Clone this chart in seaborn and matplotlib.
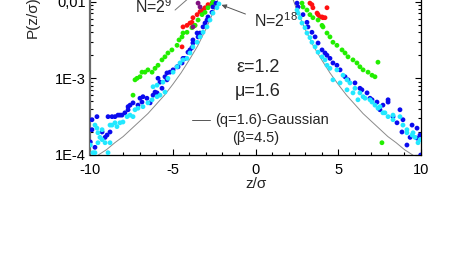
import numpy as np
import pandas as pd
import matplotlib
matplotlib.use("Agg")
import matplotlib.pyplot as plt
from matplotlib.ticker import MultipleLocator, FixedLocator, FixedFormatter, LogLocator, NullFormatter
import seaborn as sns

# ---------------- data (z/sigma, log10 P) ----------------
red_z = [-4.44, -4.38, -4.14, -3.96, -3.84, -3.78, -3.66, -3.53, -3.35, -3.23, -3.17, -3.05, -2.87, -2.63,
         3.29, 3.41, 3.47, 3.72, 3.78, 3.90, 4.02, 4.08, 4.20, 4.32]
red_lp = [-2.59, -2.33, -2.31, -2.28, -2.27, -2.21, -2.31, -2.17, -2.13, -2.14, -2.11, -2.08, -2.04, -2.02,
          -2.02, -2.04, -2.08, -2.15, -2.17, -2.20, -2.20, -2.21, -2.21, -2.08]

green_z = [-7.40, -7.28, -7.16, -6.98, -6.86, -6.68, -6.50, -6.25, -6.07, -5.89, -5.65, -5.47, -5.29, -5.05,
           -4.74, -4.62, -4.44, -4.38, -4.14, -3.84, -3.66, -3.47, -3.23, -3.05, -2.87, -2.63, -2.57,
           2.81, 2.87, 3.11, 3.29, 3.47, 3.78, 4.02, 4.08, 4.32, 4.50, 4.68, 4.92, 5.23, 5.41, 5.59, 5.89,
           6.13, 6.31, 6.50, 6.80, 7.04, 7.22, 7.40, 7.64]
green_lp = [-3.22, -3.02, -3.00, -2.98, -2.92, -2.92, -2.89, -2.92, -2.87, -2.83, -2.76, -2.72, -2.67, -2.63,
            -2.57, -2.50, -2.46, -2.41, -2.40, -2.34, -2.31, -2.24, -2.17, -2.14, -2.08, -2.04, -2.00,
            -2.02, -2.07, -2.11, -2.17, -2.21, -2.24, -2.31, -2.33, -2.41, -2.46, -2.53, -2.57, -2.63, -2.67,
            -2.72, -2.76, -2.80, -2.85, -2.89, -2.92, -2.96, -2.98, -2.79, -3.84]

purple_z = [-3.78, -3.47, -3.35]
purple_lp = [-2.33, -2.02, -2.07]

blue_z = [-9.98, -9.88, -9.88, -9.70, -9.58, -9.27, -9.09, -8.97, -8.91, -8.79, -8.67, -8.49, -8.31, -8.19,
          -8.07, -7.89, -7.70, -7.70, -7.58, -7.40, -7.10, -6.98, -6.86, -6.80, -6.56, -6.37, -6.19, -6.07,
          -5.95, -5.89, -5.77, -5.65, -5.47, -5.35, -5.35, -5.17, -4.98, -4.74, -4.68, -4.44, -4.38, -4.26,
          -4.08, -3.96, -3.84, -3.78, -3.78, -3.53, -3.47, -3.35, -3.17, -3.05, -2.93, -2.87, -2.63, -2.57,
          -2.39,
          2.51, 2.57, 2.87, 3.11, 3.17, 3.41, 3.60, 3.78, 4.02, 4.20, 4.32, 4.50, 4.68, 4.92, 5.11, 5.41,
          5.59, 6.01, 6.31, 6.43, 6.74, 6.92, 7.04, 7.34, 7.52, 7.70, 8.01, 8.01, 8.31, 8.55, 8.73, 8.85,
          8.91, 9.15, 9.34, 9.46, 9.76, 9.76, 9.94, 9.98]
blue_lp = [-3.83, -3.67, -3.54, -3.90, -3.50, -3.70, -3.77, -3.74, -3.50, -3.70, -3.50, -3.50, -3.48, -3.48,
           -3.48, -3.45, -3.41, -3.37, -3.35, -3.32, -3.35, -3.26, -3.31, -3.24, -3.26, -3.32, -3.22, -3.18,
           -3.19, -3.00, -3.05, -3.13, -2.98, -2.93, -3.02, -2.92, -2.89, -2.85, -2.85, -2.80, -2.74, -2.74,
           -2.66, -2.63, -2.60, -2.50, -2.54, -2.41, -2.46, -2.41, -2.33, -2.28, -2.24, -2.20, -2.14, -2.07,
           -2.02,
           -2.02, -2.07, -2.17, -2.27, -2.33, -2.40, -2.46, -2.54, -2.63, -2.67, -2.70, -2.74, -2.80, -2.83,
           -2.89, -2.98, -3.02, -3.06, -3.13, -3.15, -3.19, -3.26, -3.28, -3.31, -3.41, -3.35, -3.28, -3.31,
           -3.50, -3.58, -3.41, -3.70, -3.54, -3.87, -3.77, -3.61, -3.65, -3.78, -3.74, -4.00]

cyan_z = [-9.98, -9.82, -9.70, -9.70, -9.58, -9.52, -9.52, -9.40, -9.27, -9.27, -9.09, -8.91, -8.79, -8.79,
          -8.67, -8.49, -8.37, -8.19, -8.01, -7.76, -7.58, -7.40, -7.28, -7.10, -6.80, -6.50, -6.25, -6.19,
          -5.95, -5.95, -5.77, -5.59, -5.47, -5.29, -4.98, -4.74, -4.56, -4.38, -4.14, -3.96, -3.78, -3.53,
          -3.35, -3.17, -2.93, -2.75, -2.57, -2.33, -2.21,
          2.51, 2.57, 2.69, 2.81, 2.99, 3.11, 3.29, 3.41, 3.60, 3.78, 4.02, 4.20, 4.32, 4.50, 4.68, 4.92,
          5.11, 5.29, 5.53, 5.53, 5.71, 5.89, 6.01, 6.19, 6.31, 6.50, 6.62, 6.92, 7.04, 7.22, 7.40, 7.52,
          7.70, 7.82, 8.01, 8.31, 8.31, 8.73, 8.91, 9.15, 9.15, 9.46, 9.52, 9.64, 9.82, 9.94]
cyan_lp = [-3.87, -3.97, -3.61, -3.97, -3.65, -3.71, -3.84, -3.77, -3.80, -3.67, -3.84, -3.97, -3.84, -3.61,
           -3.61, -3.58, -3.63, -3.58, -3.57, -3.50, -3.48, -3.50, -3.41, -3.39, -3.37, -3.32, -3.28, -3.11,
           -3.24, -3.09, -3.22, -3.05, -3.18, -3.00, -2.92, -2.85, -2.80, -2.76, -2.74, -2.67, -2.59, -2.53,
           -2.46, -2.40, -2.33, -2.24, -2.15, -2.08, -2.03,
           -2.11, -2.15, -2.21, -2.28, -2.34, -2.41, -2.47, -2.53, -2.59, -2.66, -2.72, -2.76, -2.83, -2.87,
           -3.02, -2.89, -3.06, -2.96, -3.02, -3.15, -3.06, -3.19, -3.13, -3.28, -3.19, -3.24, -3.26, -3.28,
           -3.31, -3.35, -3.39, -3.37, -3.45, -3.45, -3.50, -3.48, -3.54, -3.50, -3.61, -3.67, -3.71, -3.74,
           -3.71, -3.77, -3.84, -3.80]

# q-Gaussian curve (q=1.6, beta=4.5) values
curve_z = [-10, -9.5, -9, -8.5, -8, -7.5, -7, -6.5, -6, -5.5, -5, -4.5, -4, -3.5, -3, -2.5, -2, -1.5, -1, -0.5,
           0, 0.5, 1, 1.5, 2, 2.5, 3, 3.5, 4, 4.5, 5, 5.5, 6, 6.5, 7, 7.5, 8, 8.5, 9, 9.5, 10]
curve_lp = [-4.08, -4.00, -3.93, -3.84, -3.76, -3.66, -3.56, -3.46, -3.34, -3.22, -3.08, -2.93, -2.76, -2.58,
            -2.36, -2.11, -1.81, -1.44, -0.97, -0.40, -0.02, -0.40, -0.97, -1.44, -1.81, -2.11, -2.36, -2.58,
            -2.76, -2.93, -3.08, -3.22, -3.34, -3.46, -3.56, -3.66, -3.76, -3.84, -3.93, -4.00, -4.08]

series_names = ["red", "green", "purple", "blue", "cyan"]
series_colors = {"red": "#ff1010", "green": "#22ee00", "purple": "#801080",
                 "blue": "#0a0aee", "cyan": "#22e8ff"}
ytick_vals = [1e-4, 1e-3, 1e-2, 1e-1, 1]
ytick_labels = ["1E-4", "1E-3", "0,01", "0,1", "1"]
xtick_vals = [-10, -5, 0, 5, 10]

frames = []
for name, zs, lps in [("red", red_z, red_lp), ("green", green_z, green_lp), ("purple", purple_z, purple_lp),
                      ("blue", blue_z, blue_lp), ("cyan", cyan_z, cyan_lp)]:
    frames.append(pd.DataFrame({"z": zs, "P": np.power(10.0, lps), "series": name}))
df = pd.concat(frames, ignore_index=True)
curve_df = pd.DataFrame({"z": curve_z, "P": np.power(10.0, curve_lp)})

# ---------------- style ----------------
sns.set_theme(style="ticks")
plt.rcParams["font.family"] = ["Liberation Sans", "DejaVu Sans"]
plt.rcParams["axes.unicode_minus"] = False
plt.rcParams["mathtext.fontset"] = "custom"
plt.rcParams["mathtext.rm"] = "Liberation Sans"
plt.rcParams["mathtext.it"] = "Liberation Sans:italic"
plt.rcParams["mathtext.bf"] = "Liberation Sans:bold"

fig = plt.figure(figsize=(4.63, 2.66), dpi=100)
fig.patch.set_facecolor("white")
ax = fig.add_axes([90 / 463, 111 / 266, 331 / 463, 4 * 76.7 / 266])
ax.set_facecolor("white")

sns.lineplot(data=curve_df, x="z", y="P", sort=False, estimator=None, color="#8a8a8a", lw=0.7, ax=ax)
sns.scatterplot(data=df, x="z", y="P", hue="series", hue_order=series_names, palette=series_colors,
                s=12, linewidth=0, legend=False, ax=ax, zorder=3)

ax.set_yscale("log")
ax.set_xlim(-10, 10)
ax.set_ylim(1e-4, 1)
ax.yaxis.set_major_locator(FixedLocator(ytick_vals))
ax.yaxis.set_major_formatter(FixedFormatter(ytick_labels))
ax.yaxis.set_minor_locator(LogLocator(base=10, subs=np.arange(2, 10)))
ax.yaxis.set_minor_formatter(NullFormatter())
ax.set_xticks(xtick_vals)
ax.xaxis.set_minor_locator(MultipleLocator(1))

ax.tick_params(which="both", direction="in", top=True, right=True, colors="black",
               labelsize=10.5, width=0.8)
ax.tick_params(which="major", length=4.5)
ax.tick_params(which="minor", length=2.5)
ax.tick_params(axis="x", pad=6)
ax.tick_params(axis="y", pad=3)

for side in ["bottom", "right", "top"]:
    ax.spines[side].set_color("black")
    ax.spines[side].set_linewidth(0.9)
ax.spines["left"].set_color("#6a6a6a")
ax.spines["left"].set_linewidth(1.6)

ax.set_xlabel("z/σ", fontsize=11, labelpad=0)
ax.set_ylabel("")
fig.text(33 / 463, 1 - 17 / 266, "P(z/σ)", rotation=90, ha="center", va="center", fontsize=11)

# annotations
ax.text(0.15, 10 ** -2.86, "ε=1.2", ha="center", va="center", fontsize=13)
ax.text(0.15, 10 ** -3.17, "μ=1.6", ha="center", va="center", fontsize=13)
ax.plot([-3.84, -2.75], [10 ** -3.54, 10 ** -3.54], color="#555555", lw=0.7)
ax.text(-2.45, 10 ** -3.54, "(q=1.6)-Gaussian", ha="left", va="center", fontsize=10.5)
ax.text(0.03, 10 ** -3.78, "(β=4.5)", ha="center", va="center", fontsize=10.5)

ax.text(-7.28, 10 ** -2.155, r"N=2$^{9}$", ha="left", va="baseline", fontsize=11.5)
ax.plot([-4.86, -3.96], [10 ** -2.11, 10 ** -1.94], color="#777777", lw=0.7)
ax.text(-0.09, 10 ** -2.33, r"N=2$^{18}$", ha="left", va="baseline", fontsize=11.5)
ax.annotate("", xy=(-2.21, 10 ** -2.03), xytext=(-0.45, 10 ** -2.175),
            arrowprops=dict(arrowstyle="-|>", color="#555555", lw=0.7, mutation_scale=7))

fig.savefig("out.png", dpi=100, facecolor="white")
